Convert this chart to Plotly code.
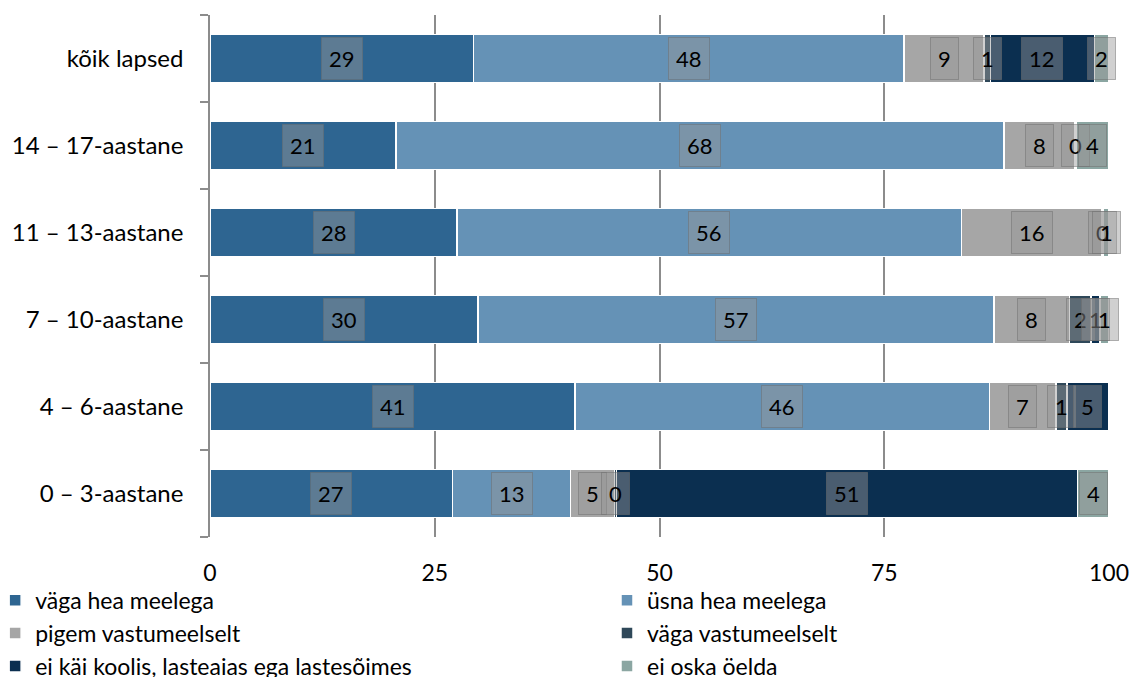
import plotly.graph_objects as go

# Age groups, top to bottom as in the chart
groups = ["kõik lapsed", "14 – 17-aastane", "11 – 13-aastane",
          "7 – 10-aastane", "4 – 6-aastane", "0 – 3-aastane"]

# Answer categories (legend order)
answers = ["väga hea meelega", "üsna hea meelega", "pigem vastumeelselt",
           "väga vastumeelselt", "ei käi koolis, lasteaias ega lastesõimes",
           "ei oska öelda"]

# Shares in % per age group
vaga_hea = [29.3, 20.7, 27.5, 29.8, 40.6, 27.0]
usna_hea = [47.9, 67.6, 56.1, 57.4, 46.1, 13.1]
pigem_vastu = [8.9, 7.9, 15.6, 8.4, 7.4, 4.9]
vaga_vastu = [0.7, 0.2, 0.2, 2.4, 1.2, 0.2]
ei_kai = [11.6, 0.0, 0.0, 1.0, 4.7, 51.3]
ei_oska = [1.6, 3.6, 0.6, 1.0, 0.0, 3.5]

series = [vaga_hea, usna_hea, pigem_vastu, vaga_vastu, ei_kai, ei_oska]
colors = ["#2E6591", "#6592B6", "#A6A6A6", "#2F4859", "#0B2F50", "#8BA6A2"]

FONT = "Lato, 'Open Sans', sans-serif"

fig = go.Figure()
for i, (name, vals, col) in enumerate(zip(answers, series, colors)):
    fig.add_trace(go.Bar(
        y=groups, x=vals, name=name, orientation="h",
        marker=dict(color=col, line=dict(color="white", width=1.5)),
        hoverinfo="x+name",
        legend="legend" if i % 2 == 0 else "legend2",
    ))

# value labels in grey boxes at the middle of every segment
annotations = []
for gi, g in enumerate(groups):
    start = 0.0
    for vals in series:
        v = vals[gi]
        if v > 0:
            annotations.append(dict(
                x=start + v / 2, y=g, xref="x", yref="y",
                text=str(int(v + 0.5)), showarrow=False,
                font=dict(size=22, color="black", family=FONT),
                bgcolor="rgba(150,150,150,0.45)",
                bordercolor="rgba(110,110,110,0.5)", borderwidth=1,
                borderpad=7, height=27,
            ))
        start += v

legend_style = dict(
    orientation="v", yanchor="top", y=-0.08,
    font=dict(size=23, family=FONT), itemwidth=30,
    traceorder="normal", bgcolor="rgba(0,0,0,0)",
)

fig.update_layout(
    barmode="stack",
    bargap=0.45,
    width=1134, height=677,
    margin=dict(l=210, r=25, t=15, b=140, autoexpand=False),
    plot_bgcolor="white", paper_bgcolor="white",
    font=dict(family=FONT, size=22, color="black"),
    annotations=annotations,
    showlegend=True,
    legend=dict(x=-0.239, xanchor="left", **legend_style),
    legend2=dict(x=0.4416, xanchor="left", **legend_style),
    xaxis=dict(
        range=[0, 100], tickvals=[0, 25, 50, 75, 100],
        showgrid=True, gridcolor="#8C8C8C", gridwidth=1.5,
        zeroline=False, showline=False, ticks="",
        ticklabelstandoff=20, tickfont=dict(size=23),
    ),
    yaxis=dict(
        categoryorder="array", categoryarray=groups[::-1],
        showline=True, linecolor="#8C8C8C", linewidth=1.5,
        ticks="outside", tickson="boundaries", ticklen=8, tickcolor="#8C8C8C",
        tickwidth=1.5, ticklabelstandoff=20, tickfont=dict(size=24),
    ),
)

# drop the default page margin so the figure fills the window exactly
fig.write_html("out.html", config={"displayModeBar": False},
               post_script="document.body.style.margin='0';"
                           "document.body.style.overflow='hidden';")
